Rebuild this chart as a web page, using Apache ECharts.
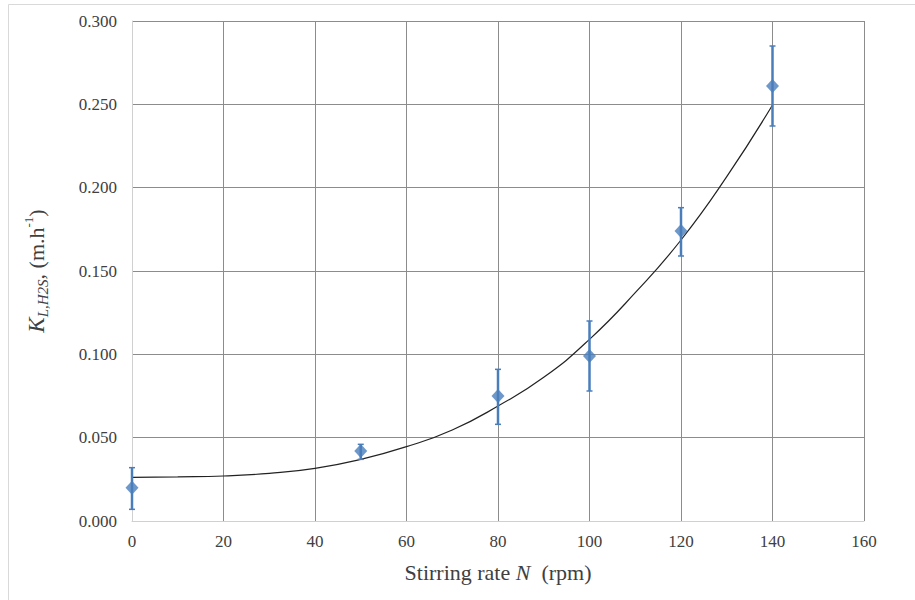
<!DOCTYPE html>
<html>
<head>
<meta charset="utf-8">
<script src="https://cdn.jsdelivr.net/npm/echarts@6/dist/echarts.min.js"></script>
<style>
  html, body { margin: 0; padding: 0; background: #fff; }
  #chart { width: 915px; height: 600px; }
</style>
</head>
<body>
<div id="chart"></div>
<script>
// measured points (stirring rate, K_L) with error bar ends
var rpm = [0, 50, 80, 100, 120, 140];
var kl = [0.020, 0.042, 0.075, 0.099, 0.174, 0.261];
var errLow = [0.007, 0.037, 0.058, 0.078, 0.159, 0.237];
var errHigh = [0.032, 0.046, 0.091, 0.120, 0.188, 0.285];

// trend line
var fitX = [0, 10, 20, 30, 40, 50, 60, 70, 80, 90, 100, 110, 120, 130, 140];
var fitY = [0.0262, 0.0265, 0.0270, 0.0286, 0.0316, 0.0370, 0.0446, 0.0546, 0.0690,
            0.0862, 0.1090, 0.1370, 0.1686, 0.2066, 0.2496];

(function() {
  var blue = '#4a7ebb';
  var ink = '#404040';
  var grid = '#8c8c8c';
  var serif = 'Liberation Serif';

  var points = rpm.map(function(x, i) { return [x, kl[i]]; });
  var bars = rpm.map(function(x, i) { return [x, errLow[i], errHigh[i]]; });
  var fit = fitX.map(function(x, i) { return [x, fitY[i]]; });

  var chart = echarts.init(document.getElementById('chart'), null, { renderer: 'svg' });
  chart.setOption({
    animation: false,
    textStyle: { fontFamily: serif },
    graphic: [{
      type: 'rect',
      shape: { x: 8.5, y: 4.5, width: 1000, height: 1000 },
      style: { fill: 'none', stroke: '#d9d9d9', lineWidth: 1 },
      silent: true
    }],
    grid: { left: 132, right: 51, top: 21, bottom: 79 },
    xAxis: {
      type: 'value', min: 0, max: 160, interval: 20,
      name: 'Stirring rate {i|N}  (rpm)',
      nameLocation: 'middle', nameGap: 40,
      nameTextStyle: {
        color: ink, fontFamily: serif, fontSize: 22,
        rich: { i: { fontStyle: 'italic', fontFamily: serif, fontSize: 22, color: ink } }
      },
      axisLine: { lineStyle: { color: '#d0d0d0' } },
      axisTick: { show: false },
      axisLabel: { color: ink, fontFamily: serif, fontSize: 17, margin: 12 },
      splitLine: { lineStyle: { color: grid, width: 1 } }
    },
    yAxis: {
      type: 'value', min: 0, max: 0.3, interval: 0.05,
      name: '{k|K}{sub|L,H2S}{n|, (m.h}{sup|-1}{n|)}',
      nameLocation: 'middle', nameGap: 82, nameRotate: 90,
      nameTextStyle: {
        color: ink, fontFamily: serif, fontSize: 22,
        rich: {
          k: { fontStyle: 'italic', fontFamily: serif, fontSize: 23, color: ink, lineHeight: 28, verticalAlign: 'middle' },
          sub: { fontStyle: 'italic', fontFamily: serif, fontSize: 15, color: ink, lineHeight: 28, verticalAlign: 'bottom' },
          n: { fontFamily: serif, fontSize: 22, color: ink, lineHeight: 28, verticalAlign: 'middle' },
          sup: { fontFamily: serif, fontSize: 13, color: ink, lineHeight: 28, verticalAlign: 'top' }
        }
      },
      axisLine: { show: true, lineStyle: { color: '#d0d0d0' } },
      axisTick: { show: false },
      axisLabel: {
        color: ink, fontFamily: serif, fontSize: 17, margin: 15,
        formatter: function(v) { return v.toFixed(3); }
      },
      splitLine: { lineStyle: { color: grid, width: 1 } }
    },
    series: [
      {
        type: 'line',
        data: fit,
        smooth: true,
        showSymbol: false,
        lineStyle: { color: '#222', width: 1.2 },
        z: 3
      },
      {
        type: 'custom',
        data: bars,
        renderItem: function(params, api) {
          var lo = api.coord([api.value(0), api.value(1)]);
          var hi = api.coord([api.value(0), api.value(2)]);
          var hw = 3;
          var st = { stroke: blue, lineWidth: 2.5 };
          var cap = { stroke: blue, lineWidth: 1.5 };
          return {
            type: 'group',
            children: [
              { type: 'line', shape: { x1: lo[0], y1: lo[1], x2: hi[0], y2: hi[1] }, style: st },
              { type: 'line', shape: { x1: lo[0] - hw, y1: lo[1], x2: lo[0] + hw, y2: lo[1] }, style: cap },
              { type: 'line', shape: { x1: hi[0] - hw, y1: hi[1], x2: hi[0] + hw, y2: hi[1] }, style: cap }
            ]
          };
        },
        z: 4
      },
      {
        type: 'scatter',
        data: points,
        symbol: 'diamond',
        symbolSize: [13, 14],
        itemStyle: { color: blue },
        z: 5
      }
    ]
  });
})();
</script>
</body>
</html>
